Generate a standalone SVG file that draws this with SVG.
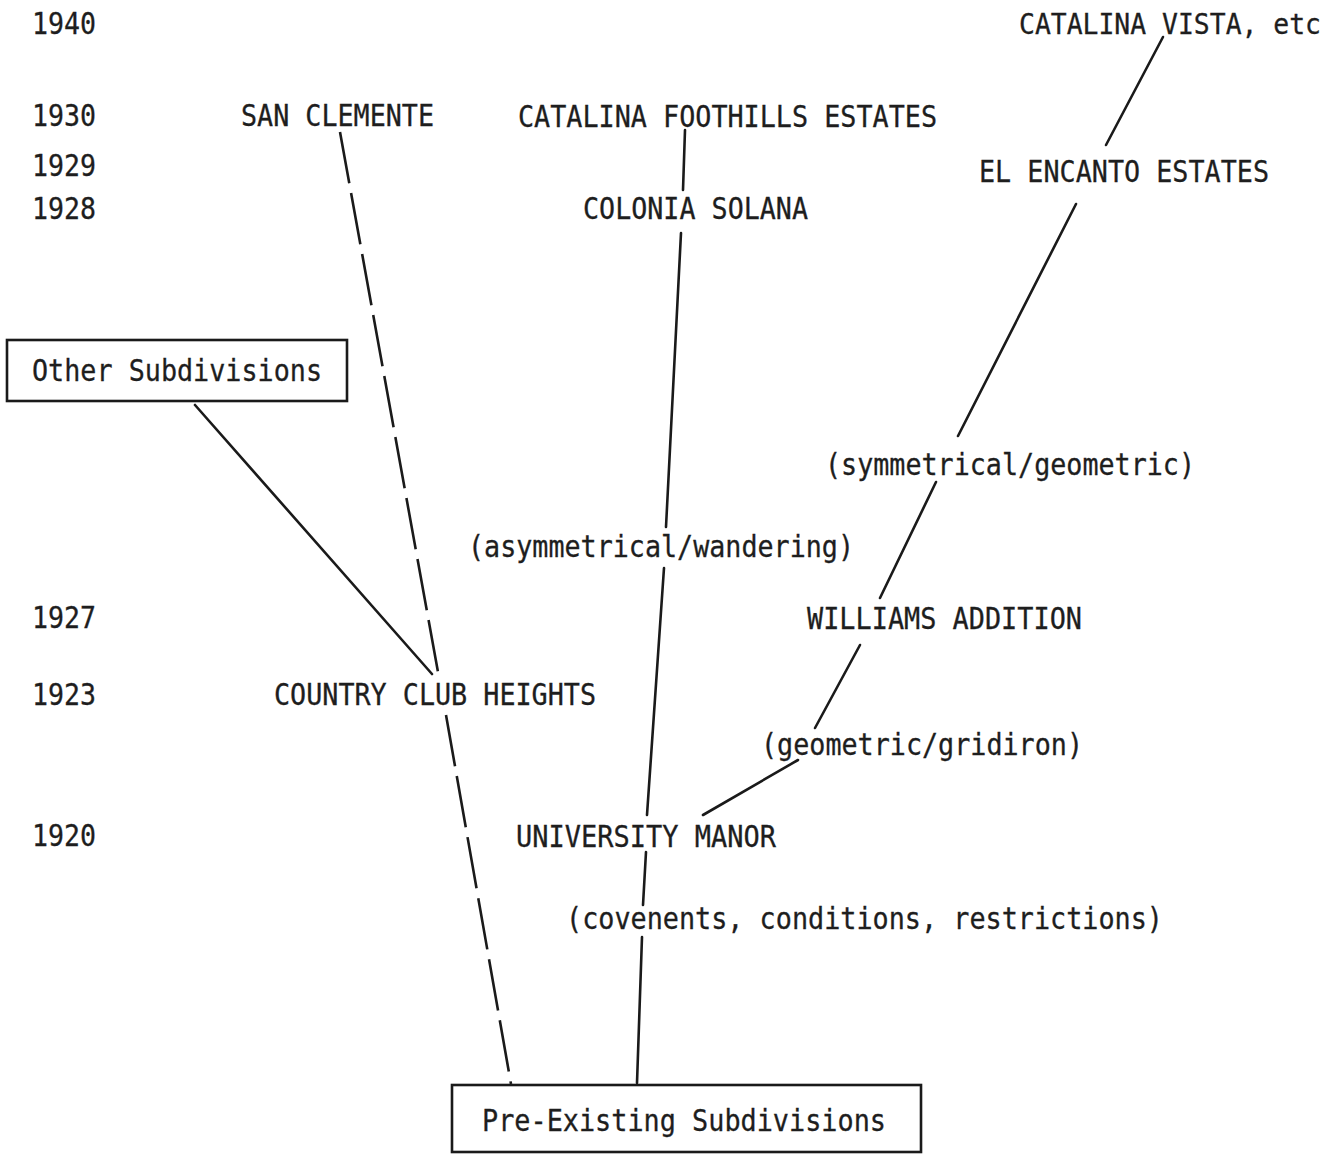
<svg xmlns="http://www.w3.org/2000/svg" width="1343" height="1155" viewBox="0 0 1343 1155">
<style>
text{font-family:"DejaVu Sans Mono","Liberation Mono",monospace;font-size:30px;fill:#1e1e1e;stroke:#1e1e1e;stroke-width:0.3}
.ln{stroke:#1a1a1a;stroke-width:2.6;fill:none;stroke-linecap:round}
.dash{stroke-dasharray:52 10;stroke-linecap:butt}
.box{fill:none;stroke:#1a1a1a;stroke-width:2.6}
</style>
<rect width="1343" height="1155" fill="#ffffff"/>
<g id="years">
<text x="32" y="34" textLength="64" lengthAdjust="spacingAndGlyphs">1940</text>
<text x="32" y="126" textLength="64" lengthAdjust="spacingAndGlyphs">1930</text>
<text x="32" y="176" textLength="64" lengthAdjust="spacingAndGlyphs">1929</text>
<text x="32" y="219" textLength="64" lengthAdjust="spacingAndGlyphs">1928</text>
<text x="32" y="628" textLength="64" lengthAdjust="spacingAndGlyphs">1927</text>
<text x="32" y="705" textLength="64" lengthAdjust="spacingAndGlyphs">1923</text>
<text x="32" y="846" textLength="64" lengthAdjust="spacingAndGlyphs">1920</text>
</g>
<g id="catalina-vista"><text x="1019" y="34" style="font-size:28px" textLength="302" lengthAdjust="spacingAndGlyphs">CATALINA VISTA, etc</text></g>
<g id="san-clemente"><text x="241" y="126" textLength="193" lengthAdjust="spacingAndGlyphs">SAN CLEMENTE</text></g>
<g id="catalina-foothills"><text x="518" y="127" textLength="419" lengthAdjust="spacingAndGlyphs">CATALINA FOOTHILLS ESTATES</text></g>
<g id="el-encanto"><text x="979" y="182" textLength="290" lengthAdjust="spacingAndGlyphs">EL ENCANTO ESTATES</text></g>
<g id="colonia-solana"><text x="583" y="219" textLength="225" lengthAdjust="spacingAndGlyphs">COLONIA SOLANA</text></g>
<g id="other-subdivisions">
<rect class="box" x="7" y="340" width="340" height="61"/>
<text x="32" y="381" textLength="290" lengthAdjust="spacingAndGlyphs">Other Subdivisions</text>
</g>
<g id="symmetrical"><text x="825" y="475" textLength="370" lengthAdjust="spacingAndGlyphs">(symmetrical/geometric)</text></g>
<g id="asymmetrical"><text x="468" y="557" textLength="386" lengthAdjust="spacingAndGlyphs">(asymmetrical/wandering)</text></g>
<g id="williams-addition"><text x="807" y="629" textLength="275" lengthAdjust="spacingAndGlyphs">WILLIAMS ADDITION</text></g>
<g id="country-club-heights"><text x="274" y="705" textLength="322" lengthAdjust="spacingAndGlyphs">COUNTRY CLUB HEIGHTS</text></g>
<g id="geometric-gridiron"><text x="761" y="755" textLength="322" lengthAdjust="spacingAndGlyphs">(geometric/gridiron)</text></g>
<g id="university-manor"><text x="516" y="847" textLength="260" lengthAdjust="spacingAndGlyphs">UNIVERSITY MANOR</text></g>
<g id="covenants"><text x="566" y="929" textLength="597" lengthAdjust="spacingAndGlyphs">(covenents, conditions, restrictions)</text></g>
<g id="pre-existing">
<rect class="box" x="452" y="1085" width="469" height="67"/>
<text x="482" y="1131" textLength="404" lengthAdjust="spacingAndGlyphs">Pre-Existing Subdivisions</text>
</g>
<g id="connectors">
<line class="ln" x1="1163" y1="37" x2="1106" y2="145"/>
<line class="ln" x1="1076" y1="204" x2="958" y2="436"/>
<line class="ln" x1="936" y1="482" x2="880" y2="598"/>
<line class="ln" x1="860" y1="645" x2="815" y2="728"/>
<line class="ln" x1="798" y1="760" x2="703" y2="815"/>
<line class="ln" x1="685" y1="130" x2="683" y2="190"/>
<line class="ln" x1="681" y1="233" x2="666" y2="527"/>
<line class="ln" x1="664" y1="568" x2="647" y2="815"/>
<line class="ln" x1="646" y1="852" x2="643" y2="905"/>
<line class="ln" x1="642" y1="937" x2="637" y2="1083"/>
<line class="ln" x1="195" y1="405" x2="432" y2="674"/>
<line class="ln dash" x1="340" y1="132" x2="438" y2="672"/>
<line class="ln dash" x1="446" y1="715" x2="511" y2="1084"/>
</g>
</svg>
